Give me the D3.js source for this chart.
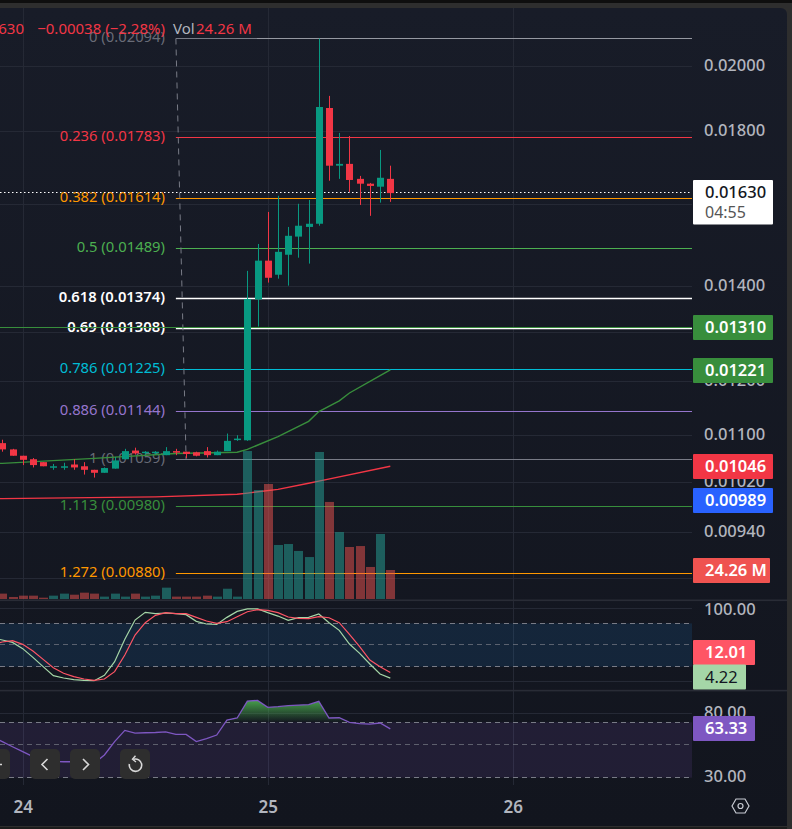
<!DOCTYPE html>
<html><head><meta charset="utf-8">
<script src="https://cdn.jsdelivr.net/npm/d3@7/dist/d3.min.js"></script>
<style>
html,body{margin:0;padding:0;background:#0f0f0f;overflow:hidden}
svg{display:block}
text{font-family:"Noto Sans","Open Sans",sans-serif}
</style></head><body>
<script>
// candles, prices in units of 0.00001
const opens  =[1087,1076,1065,1059,1054,1046,1046,1050,1047,1041,1036,1043,1059,1074,1071,1071,1066,1073,1072,1071,1073,1066,1073,1094,1092,1372,1461,1428,1475,1519,1543,1551,1871,1704,1709,1668,1655,1647,1668];
const highs  =[1093,1077,1065,1061,1054,1051,1053,1059,1054,1041,1045,1063,1077,1079,1073,1073,1080,1077,1072,1072,1080,1074,1104,1101,1437,1501,1581,1623,1543,1602,1612,2094,1908,1797,1788,1676,1657,1748,1704];
const lows   =[1072,1065,1049,1045,1047,1041,1041,1041,1033,1028,1036,1043,1059,1067,1067,1067,1066,1066,1061,1064,1062,1066,1073,1091,1091,1313,1410,1419,1403,1468,1454,1546,1663,1668,1633,1599,1571,1605,1607];
const closes =[1076,1065,1058,1049,1047,1047,1047,1045,1041,1036,1044,1057,1073,1069,1072,1072,1073,1071,1068,1065,1066,1072,1091,1095,1373,1461,1421,1482,1521,1546,1551,1874,1704,1709,1665,1655,1649,1671,1630];
// volume in millions
const volumes=[4.5,1.7,2.8,2.8,1.1,2.8,4.5,3.6,5.3,4.5,2.0,4.5,2.0,4.5,2.0,2.8,9.5,2.0,2.0,2.0,2.8,2.0,8.6,2.0,123.8,91.2,96.2,45.2,46,40.2,35.1,123,81.2,56,43.5,44.3,26.8,54.4,24.26];
// moving averages: vertices as [bar, price units]
const maGreenBars=[0,9,17,23,24,27,30,31,33,34,37,38];
const maGreenVals=[1052,1060.5,1069,1071,1076,1098.5,1126,1144,1164,1179,1212.5,1224];
const maRedBars=[0,15,23,24,27,30,31,38];
const maRedVals=[993.5,996.3,1000.5,1002.4,1008.6,1018.5,1022,1047];
// stochastic RSI, first value belongs to the bar before the first candle
const stochK=[60,57,53.7,45,33,20.1,7.6,4.4,2.1,1.2,0.7,8.1,27,57.9,84.6,95.2,93.4,94.3,93.4,92,82.8,79.1,78.6,88.3,96.6,100,100,94.8,90.1,84.2,87.8,88.3,92.9,80.9,70.3,51.4,38.5,23.8,10,4.22];
const stochD=[51,54.2,56,51,41.8,30.2,18.7,10.9,6.3,3,1.2,3,13.2,36.2,63.9,80.9,91.1,94.8,93.4,93.4,88.3,83.2,80,82.3,89.2,96.1,98.9,98,94.8,88.8,86.9,86.5,89.2,87.8,80.9,64.8,47.7,29.3,20.1,12.01];
// RSI
const rsi=[56.2,52.1,48.2,44.7,41.4,39.3,38.5,38.3,38.3,38.3,37.4,42.5,52.1,61.9,59.4,59.7,59.9,60.4,58.2,58.2,52.1,54.5,57.6,72.5,74.8,96.9,97.9,88,88.9,90.3,91.2,91.7,96.5,74.8,75.1,70,68.6,68.2,69.3,63.33];
// Fibonacci levels
const fibLevels=["0","0.236","0.382","0.5","0.618","0.69","0.786","0.886","1","1.113","1.272"];
const fibPrices=[0.02094,0.01783,0.01614,0.01489,0.01374,0.01308,0.01225,0.01144,0.01059,0.0098,0.0088];
const fibColors=["#787b86","#f23645","#ff9800","#4caf50","#ffffff","#ffffff","#00bcd4","#9575cd","#787b86","#388e3c","#ff9800"];
// axis ticks
const priceTicks=[0.02,0.018,0.016,0.014,0.013,0.012,0.011,0.0102,0.0094,0.00872];
const dayBars=[2,26,50];
const dayLabels=["24","25","26"];
const stochTicks=[100];
const rsiTicks=[80,30];
const tagsPrice=[[0.0131,"0.01310","#388e3c"],[0.01221,"0.01221","#388e3c"],[0.01046,"0.01046","#f23645"],[0.00989,"0.00989","#2962ff"]];

const W=792,H=829,plotR=692;
const svg=d3.select("body").append("svg").attr("width",W).attr("height",H);
const defs=svg.append("defs");
const bg=defs.append("linearGradient").attr("id","bg").attr("x1",0).attr("x2",0).attr("y1",0).attr("y2",1);
bg.append("stop").attr("offset",0).attr("stop-color","#181c28");
bg.append("stop").attr("offset",1).attr("stop-color","#12151e");

const x=d3.scaleLinear().domain([0,38]).range([2.3,390.3]);
const y=d3.scaleLog().domain([0.02094,0.0088]).range([38.5,573.5]);
const px=d=>Math.round(x(d))+.5;
const snap=v=>Math.floor(v-.2)+.5;
const volY=d3.scaleLinear().domain([0,24.26]).range([599,570]);
const stY=d3.scaleLinear().domain([0,100]).range([681.2,608.9]);
const rsY=d3.scaleLog().domain([80,30]).range([713.6,777.7]);

// frame
svg.append("rect").attr("x",0).attr("y",0).attr("width",W).attr("height",H).attr("fill","#2e2e2e");
svg.append("rect").attr("x",0).attr("y",0).attr("width",W).attr("height",3).attr("fill","#0e0e0e");
svg.append("path").attr("d",`M0 8H781a6 6 0 0 1 6 6V826H0Z`).attr("fill","url(#bg)");
svg.append("rect").attr("x",0).attr("y",827).attr("width",787).attr("height",2).attr("fill","#1c1c1c");

const gridC="#252935";
const grid=svg.append("g").attr("stroke",gridC).attr("fill","none");
priceTicks.forEach(p=>grid.append("line").attr("x1",0).attr("x2",plotR).attr("y1",snap(y(p))).attr("y2",snap(y(p))));
dayBars.forEach(b=>grid.append("line").attr("x1",px(b)).attr("x2",px(b)).attr("y1",8).attr("y2",785));
[100,0].forEach(v=>grid.append("line").attr("x1",0).attr("x2",plotR).attr("y1",snap(stY(v))).attr("y2",snap(stY(v))));
grid.append("line").attr("x1",0).attr("x2",plotR).attr("y1",snap(rsY(80))).attr("y2",snap(rsY(80)));

// pane separators
[[599.5],[689.8]].forEach(([v])=>svg.append("rect").attr("x",0).attr("width",787).attr("y",v).attr("height",1.6).attr("fill","#292c36"));

// bands
svg.append("rect").attr("x",0).attr("width",plotR).attr("y",stY(80)).attr("height",stY(20)-stY(80)).attr("fill","#2196f3").attr("opacity",.12);
svg.append("rect").attr("x",0).attr("width",plotR).attr("y",rsY(70)).attr("height",rsY(30)-rsY(70)).attr("fill","#7e57c2").attr("opacity",.14);
[80,50,20].forEach(v=>svg.append("line").attr("x1",0).attr("x2",plotR).attr("y1",snap(stY(v))).attr("y2",snap(stY(v)))
  .attr("stroke","#787b86").attr("stroke-dasharray","5 4").attr("stroke-opacity",v==50?.7:1));
[70,50,30].forEach(v=>svg.append("line").attr("x1",0).attr("x2",plotR).attr("y1",snap(rsY(v))).attr("y2",snap(rsY(v)))
  .attr("stroke","#787b86").attr("stroke-dasharray","5 4").attr("stroke-opacity",v==50?.7:1));

// fibonacci
const fibX0=x(17);
fibPrices.forEach((p,i)=>{
  const yy=snap(y(p));
  svg.append("line").attr("x1",fibX0).attr("x2",plotR).attr("y1",yy).attr("y2",yy)
    .attr("stroke",fibColors[i]).attr("stroke-width",(i==4||i==5)?1.4:1);
  svg.append("text").attr("x",165).attr("y",yy-1.5).attr("dy",".36em").attr("text-anchor","end")
    .attr("fill",fibColors[i]).attr("font-size",14.8).attr("font-weight",(i==4||i==5)?600:400)
    .attr("fill-opacity",(i==0||i==8)?.85:1)
    .text(`${fibLevels[i]} (${p.toFixed(5)})`);
});
svg.append("line").attr("x1",257).attr("x2",plotR).attr("y1",snap(y(fibPrices[0]))).attr("y2",snap(y(fibPrices[0]))).attr("stroke","#9598a1");
svg.append("line").attr("x1",x(17)).attr("x2",x(18)).attr("y1",y(fibPrices[0])).attr("y2",y(fibPrices[8]))
  .attr("stroke","#787b86").attr("stroke-dasharray","6 5");

// price line 0.01310
svg.append("line").attr("x1",0).attr("x2",plotR).attr("y1",Math.floor(y(0.0131))+.5).attr("y2",Math.floor(y(0.0131))+.5).attr("stroke","#388e3c");

// moving averages
const line=d3.line().curve(d3.curveLinear);
svg.append("path").attr("fill","none").attr("stroke","#388e3c").attr("stroke-width",1.4)
  .attr("d",line([[0,y(maGreenVals[0]/1e5)]].concat(maGreenBars.map((b,i)=>[x(b),y(maGreenVals[i]/1e5)]))));
svg.append("path").attr("fill","none").attr("stroke","#f23645").attr("stroke-width",1.4)
  .attr("d",line([[0,y(maRedVals[0]/1e5)]].concat(maRedBars.map((b,i)=>[x(b),y(maRedVals[i]/1e5)]))));

// volume
svg.append("g").selectAll("rect").data(volumes).join("rect")
  .attr("x",(d,i)=>Math.round(x(i))-4).attr("width",9)
  .attr("y",d=>volY(d)).attr("height",d=>599-volY(d))
  .attr("fill",(d,i)=>closes[i]>=opens[i]?"#26a69a":"#ef5350").attr("fill-opacity",.5);

// last price line
svg.append("line").attr("x1",0).attr("x2",plotR-2).attr("y1",192.5).attr("y2",192.5)
  .attr("stroke","#fff").attr("stroke-dasharray","1.5 2.5");

// candles
const cg=svg.append("g");
opens.forEach((o,i)=>{
  const up=closes[i]>=o, c=up?"#089981":"#f23645", cx=px(i);
  cg.append("line").attr("x1",cx).attr("x2",cx).attr("y1",y(highs[i]/1e5)).attr("y2",y(lows[i]/1e5)).attr("stroke",c);
  const t=y(Math.max(o,closes[i])/1e5), b=y(Math.min(o,closes[i])/1e5);
  cg.append("rect").attr("x",cx-3.5).attr("width",7).attr("y",t).attr("height",Math.max(b-t,1.5)).attr("fill",c);
});

// stochastic RSI (first value is one bar before the first candle)
svg.append("path").attr("fill","none").attr("stroke","#a5d6a7").attr("stroke-width",1.2)
  .attr("d",line(stochK.map((v,i)=>[x(i-1),stY(v)])));
svg.append("path").attr("fill","none").attr("stroke","#ff5565").attr("stroke-width",1.2)
  .attr("d",line(stochD.map((v,i)=>[x(i-1),stY(v)])));

// RSI with overbought gradient
const g70=defs.append("linearGradient").attr("id","ob").attr("gradientUnits","userSpaceOnUse").attr("x1",0).attr("x2",0).attr("y1",rsY(100)).attr("y2",rsY(70));
g70.append("stop").attr("offset",0).attr("stop-color","#4caf50").attr("stop-opacity",.95);
g70.append("stop").attr("offset",1).attr("stop-color","#4caf50").attr("stop-opacity",0);
defs.append("clipPath").attr("id","above70").append("rect").attr("x",0).attr("y",690).attr("width",plotR).attr("height",rsY(70)-690);
svg.append("path").attr("clip-path","url(#above70)").attr("fill","url(#ob)")
  .attr("d",d3.area().x((v,i)=>x(i-1)).y0(rsY(70)).y1(v=>rsY(v))(rsi));
svg.append("path").attr("fill","none").attr("stroke","#7e57c2").attr("stroke-width",1.3)
  .attr("d",line(rsi.map((v,i)=>[x(i-1),rsY(v)])));

// nav buttons
[[-20,10],[30,60],[70,100],[120,150]].forEach(([a,b])=>svg.append("rect").attr("x",a).attr("y",749).attr("width",b-a).attr("height",30).attr("rx",5).attr("fill","#2e2e2e"));
const ic=svg.append("g").attr("fill","none").attr("stroke","#d8d8d8").attr("stroke-width",1.6);
ic.append("path").attr("d","M0 764.5H2");
ic.append("path").attr("d","M47.5 759L42 764.5L47.5 770");
ic.append("path").attr("d","M83 759L88.5 764.5L83 770");
ic.append("path").attr("d","M133.5 759.3A6.2 6.2 0 1 1 129.4 764");
ic.append("path").attr("d","M135.5 755.8L132.5 759.2L136 762").attr("stroke-width",1.4);

// axes
function cleanAxis(g){g.select(".domain").remove();g.selectAll("line").remove();g.selectAll("text").attr("fill","#b2b5be").attr("font-size",16.5).attr("font-weight",500).attr("font-family",'"Noto Sans",sans-serif');}
svg.append("g").attr("transform",`translate(${plotR},-1.5)`)
  .call(d3.axisRight(y).tickValues(priceTicks).tickSize(0).tickPadding(12).tickFormat(d=>d.toFixed(5))).call(cleanAxis);
svg.append("g").attr("transform",`translate(${plotR},0)`)
  .call(d3.axisRight(stY).tickValues(stochTicks).tickSize(0).tickPadding(12).tickFormat(d=>d.toFixed(2))).call(cleanAxis);
svg.append("g").attr("transform",`translate(${plotR},-1)`)
  .call(d3.axisRight(rsY).tickValues(rsiTicks).tickSize(0).tickPadding(12).tickFormat(d=>d.toFixed(2))).call(cleanAxis);
svg.append("g").attr("transform","translate(0,801)")
  .call(d3.axisBottom(x).tickValues(dayBars).tickSize(0).tickPadding(0).tickFormat((d,i)=>dayLabels[i])).call(cleanAxis)
  .selectAll("text").attr("font-weight",600).attr("font-size",17);

// tags
function tag(yc,w,fill,txt,tc,fw){
  svg.append("rect").attr("x",693).attr("y",yc-12.5).attr("width",w).attr("height",25).attr("rx",1).attr("fill",fill);
  svg.append("text").attr("x",705).attr("y",yc).attr("dy",".36em").attr("fill",tc||"#fff").attr("font-size",16.5).attr("font-weight",fw||600).text(txt);
}
svg.append("rect").attr("x",693).attr("y",180).attr("width",80).attr("height",44.5).attr("rx",1).attr("fill","#fff");
svg.append("text").attr("x",705).attr("y",192.5).attr("dy",".36em").attr("fill","#131722").attr("font-size",16.5).attr("font-weight",500).text("0.01630");
svg.append("text").attr("x",705).attr("y",212).attr("dy",".36em").attr("fill","#555").attr("font-size",16).text("04:55");
tagsPrice.forEach(([p,t,c])=>tag(Math.round(y(p))-.5,80,c,t));
tag(570.5,77,"#ef5350","24.26 M");
tag(652.5,62,"#ff5565","12.01");
tag(677,53,"#a5d6a7","4.22","#131722",400);
tag(728.5,62,"#7e57c2","63.33");

// legend
const lg=svg.append("g").attr("font-size",15);
lg.append("text").attr("x",24).attr("y",34).attr("text-anchor","end").attr("fill","#f23645").text("630");
lg.append("text").attr("x",165).attr("y",34).attr("text-anchor","end").attr("fill","#f23645").text("\u22120.00038 (\u22122.28%)");
lg.append("text").attr("x",173).attr("y",34).attr("fill","#b2b5be").text("Vol");
lg.append("text").attr("x",196).attr("y",34).attr("fill","#f23645").text("24.26 M");

// settings icon
const st=svg.append("g").attr("fill","none").attr("stroke","#c8cbd3").attr("stroke-width",1.2);
st.append("path").attr("d","M732 806L736 799H745L749 806L745 813H736Z");
st.append("circle").attr("cx",740.5).attr("cy",806).attr("r",2.5);
</script>
</body></html>
